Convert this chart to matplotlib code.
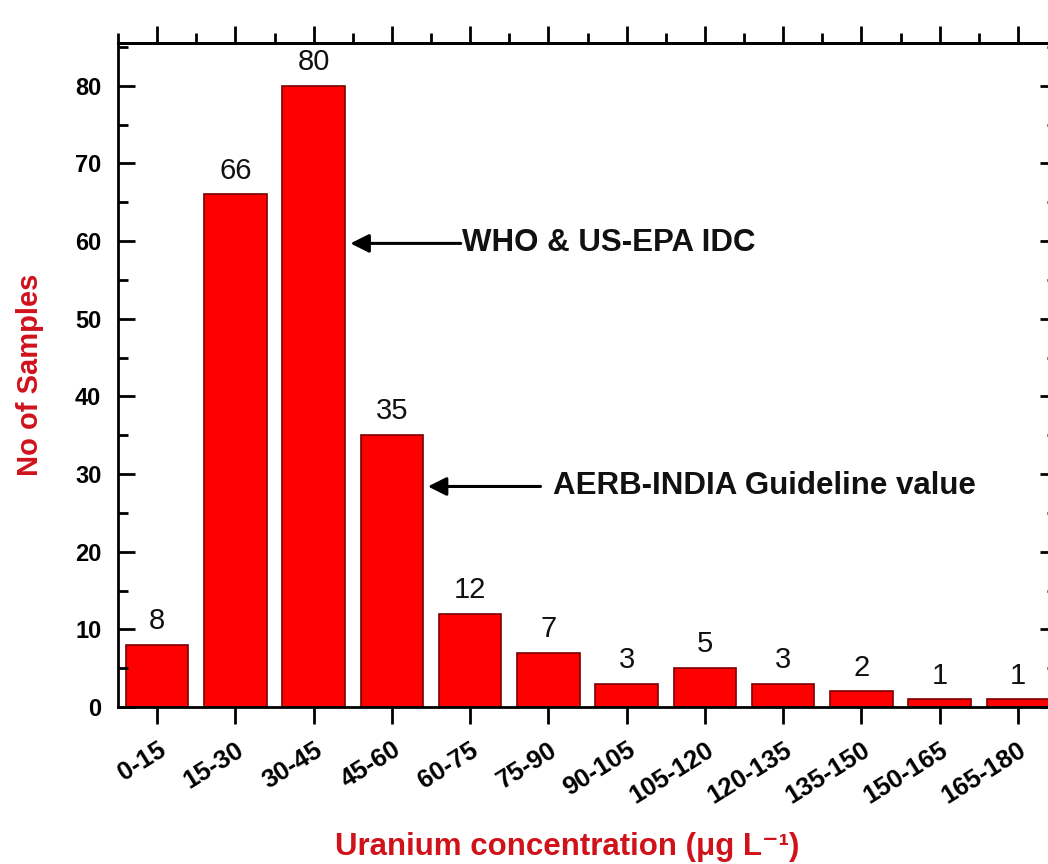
import numpy as np
import matplotlib.pyplot as plt
from matplotlib.ticker import MultipleLocator

# data
ranges = ["0-15", "15-30", "30-45", "45-60", "60-75", "75-90", "90-105",
          "105-120", "120-135", "135-150", "150-165", "165-180"]
counts = [8, 66, 80, 35, 12, 7, 3, 5, 3, 2, 1, 1]

who_level = 59.7
aerb_level = 28.4

plt.rcParams['font.family'] = ['Liberation Sans', 'DejaVu Sans']

fig = plt.figure(figsize=(10.48, 8.64), dpi=100)
ax = fig.add_axes([0.1126, 0.1817, 0.8960, 0.7685])

x = np.arange(len(ranges))
bars = ax.bar(x, counts, width=0.8, color='#ff0000', edgecolor='#7a0000', linewidth=1.2)

for xi, c in zip(x, counts):
    ax.annotate(str(c), (xi, c), xytext=(0, 7), textcoords='offset points',
                ha='center', va='bottom', fontsize=21, color='#111111')

ax.set_xlim(-0.5, len(ranges) - 0.5)
ax.set_ylim(0, 85.5)

ax.set_xticks(x)
ax.set_xticklabels(ranges, rotation=32, ha='right', va='top', rotation_mode='anchor',
                   fontsize=18.5, fontweight='bold')
ax.yaxis.set_major_locator(MultipleLocator(10))
ax.yaxis.set_minor_locator(MultipleLocator(5))
ax.xaxis.set_minor_locator(MultipleLocator(0.5))
for lab in ax.get_yticklabels():
    lab.set_fontweight('bold')

ax.tick_params(axis='y', which='major', direction='in', length=12, width=2,
               labelsize=17, right=True, pad=12)
ax.tick_params(axis='y', which='minor', direction='in', length=7, width=2, right=True)
ax.tick_params(axis='x', which='major', direction='out', length=12, width=2, pad=10)
ax.tick_params(axis='x', which='minor', length=0)

for s in ax.spines.values():
    s.set_linewidth(2)

# top axis with outward ticks
top = ax.secondary_xaxis('top')
top.set_xticks(x)
top.xaxis.set_minor_locator(MultipleLocator(0.5))
top.set_xticklabels([])
top.tick_params(which='major', direction='out', length=12, width=2)
top.tick_params(which='minor', direction='out', length=7, width=2)
top.spines['top'].set_linewidth(2)

ax.set_ylabel("No of Samples", fontsize=21, fontweight='bold', color='#d0121b', labelpad=22)
fig.text(567 / 1048, 0.01, "Uranium concentration (\u03bcg L\u207b\u00b9)", fontsize=22.5,
         fontweight='bold', color='#d0121b', ha='center', va='baseline')

arrow = dict(arrowstyle='-|>', color='black', lw=2.2, mutation_scale=28, shrinkA=0, shrinkB=0)
ax.annotate('', xy=(2.47, who_level), xytext=(3.88, who_level), arrowprops=arrow)
ax.text(3.9, who_level, "WHO & US-EPA IDC", fontsize=22.5, fontweight='bold',
        va='center', ha='left', color='#111111')
ax.annotate('', xy=(3.46, aerb_level), xytext=(4.9, aerb_level), arrowprops=arrow)
ax.text(5.06, aerb_level, "AERB-INDIA Guideline value", fontsize=22.5, fontweight='bold',
        va='center', ha='left', color='#111111')

fig.savefig("out.png", dpi=100)
